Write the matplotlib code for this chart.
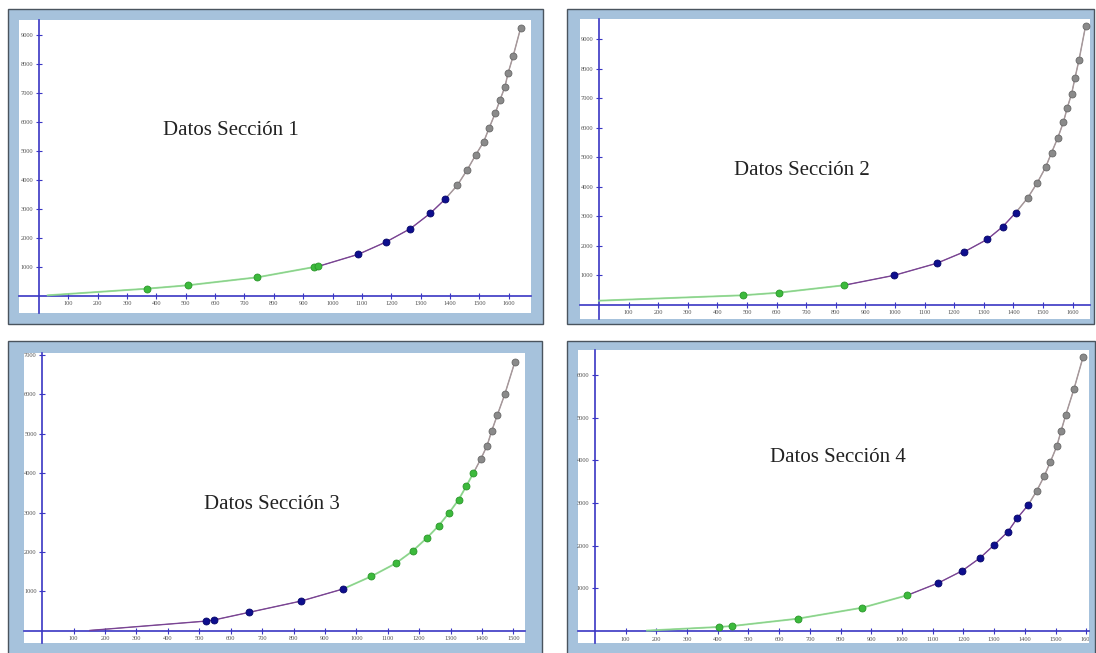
import matplotlib
matplotlib.use("Agg")
import matplotlib.pyplot as plt
from matplotlib.patches import Rectangle
from matplotlib.transforms import Bbox

# ---------------------------------------------------------------- data
titles = ["Datos Sección 1", "Datos Sección 2", "Datos Sección 3", "Datos Sección 4"]

# Section 1
s1_start_x = [30]
s1_start_y = [10]
s1_green_x = [367, 506, 744, 938, 951]
s1_green_y = [239, 356, 633, 990, 1010]
s1_blue_x = [1088, 1182, 1265, 1333, 1383]
s1_blue_y = [1429, 1855, 2315, 2848, 3332]
s1_gray_x = [1425, 1459, 1487, 1515, 1533, 1554, 1570, 1587, 1598, 1615, 1641]
s1_gray_y = [3817, 4356, 4855, 5325, 5789, 6308, 6758, 7218, 7702, 8280, 9270]

# Section 2
s2_start_x = [0]
s2_start_y = [140]
s2_green_x = [485, 607, 827]
s2_green_y = [322, 410, 661]
s2_blue_x = [998, 1141, 1235, 1312, 1364, 1408]
s2_blue_y = [1000, 1407, 1800, 2220, 2647, 3122]
s2_gray_x = [1449, 1481, 1509, 1529, 1550, 1569, 1582, 1597, 1608, 1622, 1644]
s2_gray_y = [3631, 4139, 4661, 5156, 5654, 6186, 6671, 7156, 7678, 8308, 9451]

# Section 3
s3_start_x = [152]
s3_start_y = [10]
s3_blue_x = [523, 546, 657, 824, 957]
s3_blue_y = [248, 274, 466, 755, 1060]
s3_green_x = [1047, 1125, 1180, 1224, 1262, 1296, 1326, 1350, 1373]
s3_green_y = [1380, 1709, 2030, 2352, 2664, 3001, 3331, 3670, 4008]
s3_gray_x = [1396, 1416, 1431, 1449, 1473, 1505]
s3_gray_y = [4355, 4692, 5072, 5478, 6010, 6829]

# Section 4
s4_start_x = [170]
s4_start_y = [10]
s4_green_x = [403, 448, 660, 871, 1017]
s4_green_y = [94, 117, 288, 546, 836]
s4_blue_x = [1118, 1195, 1254, 1300, 1345, 1375, 1411]
s4_blue_y = [1124, 1405, 1710, 2014, 2326, 2639, 2951]
s4_gray_x = [1439, 1463, 1483, 1504, 1518, 1533, 1560, 1590]
s4_gray_y = [3286, 3623, 3958, 4325, 4684, 5052, 5667, 6424]

# tick labels
xticks_16 = list(range(100, 1700, 100))
xticks_15 = list(range(100, 1600, 100))
yticks_9 = list(range(1000, 10000, 1000))
yticks_7 = list(range(1000, 8000, 1000))
yticks_6 = list(range(1000, 7000, 1000))

# ---------------------------------------------------------------- styles
W, H = 1096, 653
FRAME = "#a6c2dc"
FRAME_EDGE = "#4a545e"
AXIS_BLUE = "#3a36c4"
SERIF = ["Liberation Serif", "DejaVu Serif"]

STYLE = {
    "green": dict(line="#8ee28e", lw=1.4, face="#3cba3c", edge="#2a962a"),
    "blue": dict(line="#7a3c98", lw=1.0, face="#0e0e8e", edge="#050568"),
    "gray": dict(line="#ad9f9f", lw=1.1, face="#8a8a8a", edge="#686868"),
}

# panel geometry in pixels: frame box, white plot box, data limits, title anchor
panels = [
    dict(frame=(8, 9, 543, 324), plot=(19, 20, 531, 313),
         xlim=(-68, 1676), ylim=(-602, 9536), title=(163, 135),
         xticks=xticks_16, yticks=yticks_9,
         groups=[("green", s1_green_x, s1_green_y), ("blue", s1_blue_x, s1_blue_y),
                 ("gray", s1_gray_x, s1_gray_y)],
         start=(s1_start_x, s1_start_y)),
    dict(frame=(567, 9, 1094, 324), plot=(580, 19, 1090, 319),
         xlim=(-64, 1659), ylim=(-481, 9688), title=(734, 175),
         xticks=xticks_16, yticks=yticks_9,
         groups=[("green", s2_green_x, s2_green_y), ("blue", s2_blue_x, s2_blue_y),
                 ("gray", s2_gray_x, s2_gray_y)],
         start=(s2_start_x, s2_start_y)),
    dict(frame=(8, 341, 542, 662), plot=(24, 353, 525, 643),
         xlim=(-58, 1537), ylim=(-309, 7049), title=(204, 509),
         xticks=xticks_15, yticks=yticks_7,
         groups=[("blue", s3_blue_x, s3_blue_y), ("green", s3_green_x, s3_green_y),
                 ("gray", s3_gray_x, s3_gray_y)],
         start=(s3_start_x, s3_start_y)),
    dict(frame=(567, 341, 1095, 662), plot=(578, 350, 1089, 643),
         xlim=(-55, 1609), ylim=(-281, 6581), title=(770, 462),
         xticks=xticks_16, yticks=yticks_6,
         groups=[("green", s4_green_x, s4_green_y), ("blue", s4_blue_x, s4_blue_y),
                 ("gray", s4_gray_x, s4_gray_y)],
         start=(s4_start_x, s4_start_y)),
]

fig = plt.figure(figsize=(W / 100, H / 100), dpi=100, facecolor="white")


def fig_rect(box):
    x0, y0, x1, y1 = box
    return [x0 / W, 1 - y1 / H, (x1 - x0) / W, (y1 - y0) / H]


for title, p in zip(titles, panels):
    # window-like frame behind the plot
    fx, fy, fw, fh = fig_rect(p["frame"])
    fig.add_artist(Rectangle((fx, fy), fw, fh, transform=fig.transFigure,
                             facecolor=FRAME, edgecolor=FRAME_EDGE, lw=1.0, zorder=0))

    ax = fig.add_axes(fig_rect(p["plot"]), zorder=1)
    ax.set_facecolor("white")
    ax.set_xlim(*p["xlim"])
    ax.set_ylim(*p["ylim"])

    for side in ("top", "right"):
        ax.spines[side].set_visible(False)
    for side in ("left", "bottom"):
        ax.spines[side].set_position(("data", 0))
        ax.spines[side].set_color(AXIS_BLUE)
        ax.spines[side].set_linewidth(1.2)

    ax.set_xticks(p["xticks"])
    ax.set_yticks(p["yticks"])
    ax.set_xticklabels([str(v) for v in p["xticks"]], family=SERIF)
    ax.set_yticklabels([str(v) for v in p["yticks"]], family=SERIF)
    ax.tick_params(direction="inout", length=5, width=0.8, color=AXIS_BLUE,
                   labelsize=4.6, labelcolor="#555555", pad=1.5)

    # keep tick labels inside the white plot region
    px0, py0, px1, py1 = p["plot"]
    clip = Bbox.from_extents(px0, H - py1, px1, H - py0 + 10)
    for t in ax.xaxis.get_major_ticks():
        t.label1.set_clip_box(clip)
        t.label1.set_clip_on(True)

    # curve: thin base line through every point, then coloured segments
    xs = list(p["start"][0])
    ys = list(p["start"][1])
    for _, gx, gy in p["groups"]:
        xs += gx
        ys += gy
    ax.plot(xs, ys, color="#5e4e62", lw=0.6, zorder=2, solid_capstyle="round")

    prev_x, prev_y = p["start"][0][-1], p["start"][1][-1]
    for name, gx, gy in p["groups"]:
        st = STYLE[name]
        ax.plot([prev_x] + gx, [prev_y] + gy, color=st["line"], lw=st["lw"],
                alpha=0.85, zorder=3)
        prev_x, prev_y = gx[-1], gy[-1]

    for name, gx, gy in p["groups"]:
        st = STYLE[name]
        ax.plot(gx, gy, ls="none", marker="o", ms=5.0, mfc=st["face"],
                mec=st["edge"], mew=0.6, zorder=4)

    fig.text(p["title"][0] / W, 1 - p["title"][1] / H, title, family=SERIF,
             fontsize=15, color="#222222", ha="left", va="baseline")

fig.savefig("out.png", dpi=100, facecolor="white")
